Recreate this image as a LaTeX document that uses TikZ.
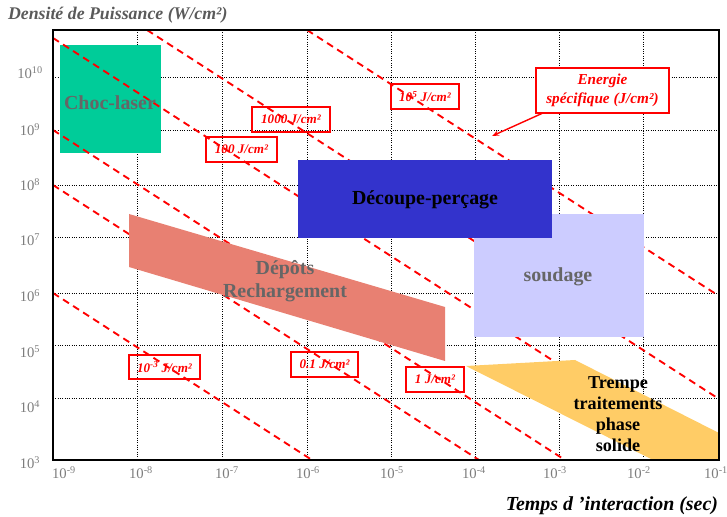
\documentclass[tikz,border=0pt]{standalone}
\usepackage{fontspec}
\setmainfont{Liberation Serif}
\usetikzlibrary{calc}
\usetikzlibrary{arrows.meta}

\newdimen\upx \upx=0.03cm
\definecolor{choccol}{RGB}{0,204,153}
\definecolor{decoupecol}{RGB}{51,51,204}
\definecolor{soudcol}{RGB}{204,204,255}
\definecolor{depotcol}{RGB}{232,128,114}
\definecolor{trempecol}{RGB}{255,204,102}
\definecolor{textgray}{RGB}{102,102,102}
\definecolor{tickgray}{RGB}{125,125,125}
\definecolor{titlegray}{RGB}{90,90,90}

\begin{document}
\begin{tikzpicture}
  [
  x=0.03cm, y=-0.03cm,
  % 文字の余白
  every node/.style={inner sep=0, outer sep=0},
  % 目盛りの数字
  tick/.style={text=tickgray, font=\fontsize{12.5}{14}\selectfont},
  % 軸の名前
  axistitle/.style={font=\bfseries\itshape\fontsize{15.2}{17}\selectfont},
  % 格子
  gridline/.style={line width=0.8pt, dash pattern=on 0.8pt off 1.2pt},
  % エネルギー一定の線
  eline/.style={red, line width=1.6pt, dash pattern=on 6pt off 4.2pt},
  % エネルギーのラベル
  elabel/.style={draw=red, line width=1.5pt, text=red,
  font=\bfseries\itshape\fontsize{11.2}{13}\selectfont, minimum height=25\upx},
  % 領域の名前
  region/.style={font=\bfseries\fontsize{17}{20}\selectfont},
  % 矢印
  arrow/.style={-{Stealth[length=6pt]}, red, line width=1.2pt}
  ]
  \useasboundingbox (0,0) rectangle (727,517);
  % 格子
  \foreach \x in {137,222,307,391,475,559,643}
    \draw[gridline] (\x,30) -- (\x,460);
  \foreach \y in {77,130,185,237,293,345,398}
    \draw[gridline] (53,\y) -- (719,\y);
  \fill[choccol] (60,45) rectangle (161,153);
  % J/cm2 一定の線
  \draw[eline] (53,293) -- (312,460);
  \draw[eline] (53,185) -- (479,460);
  \draw[eline] (53,130) -- (565,460);
  \draw[eline] (53,38) -- (707,460);
  \draw[eline] (147,30) -- (719,399);
  \draw[eline] (307,30) -- (719,296);
  % 領域
  \fill[depotcol] (129,214) -- (445,307) -- (445,361) -- (129,267) -- cycle;
  \fill[soudcol] (474,214) rectangle (644,337);
  \fill[decoupecol] (298,160) rectangle (552,238);
  \fill[trempecol] (466,366) -- (575,360) -- (719,433) -- (719,460)
  -- (653,460) -- cycle;
  \draw[line width=1.5pt] (53,30) rectangle (719,460);
  % 目盛り
  \foreach \e/\y in {10/73,9/130,8/185,7/240,6/296,5/352,4/407,3/463}
    \node[tick] (y\e) at (30,\y) {10\textsuperscript{\e}};
  \foreach \e/\x in {9/64,8/141,7/227,6/308,5/392,4/474,3/555,2/639,1/716}
    \node[tick] (x\e) at (\x,473) {10\textsuperscript{-\e}};
  \node[axistitle, text=titlegray, anchor=west] (ytitle) at (8,15)
  {Densité de Puissance (W/cm²)};
  \node[axistitle, font=\bfseries\itshape\fontsize{17}{19}\selectfont,
  anchor=east] (xtitle) at (718,506) {Temps d ’interaction (sec)};
  % 領域の名前
  \node[region, text=textgray] (choc) at (110,103) {Choc-laser};
  \node[region] (decoupe) at (425,200) {Découpe-perçage};
  \node[region, text=textgray] (soudage) at (558,277) {soudage};
  \node[region, text=textgray, align=center] (depot) at (285,281)
  {Dépôts\\Rechargement};
  \node[font=\bfseries\fontsize{15.5}{18}\selectfont, align=center] (trempe)
  at (618,414) {Trempe\\traitements\\phase\\solide};
  % ラベル
  \node[elabel, minimum width=78\upx] (e1000) at (291,119.5) {1000 J/cm²};
  \node[elabel, minimum width=71\upx] (e100) at (241.5,149.5) {100 J/cm²};
  \node[elabel, minimum width=68\upx] (e1e5) at (425,96.5)
  {10\textsuperscript{5} J/cm²};
  \node[elabel, minimum width=71\upx, minimum height=24\upx] (e1m3)
  at (164.5,367) {10\textsuperscript{-3} J/cm²};
  \node[elabel, minimum width=67\upx] (e01) at (324.5,364.5) {0.1 J/cm²};
  \node[elabel, minimum width=58\upx] (e1) at (435,379.5) {1 J/cm²};
  \node[elabel, fill=white, minimum width=133\upx, minimum height=45\upx,
  align=center, font=\bfseries\itshape\fontsize{13}{16}\selectfont] (ener)
  at (602.5,90.5) {Energie\\spécifique (J/cm²)};
  \coordinate (pointe) at (492,136);
  \draw[arrow] ([xshift=7\upx]ener.south west) -- (pointe);
\end{tikzpicture}
\end{document}
